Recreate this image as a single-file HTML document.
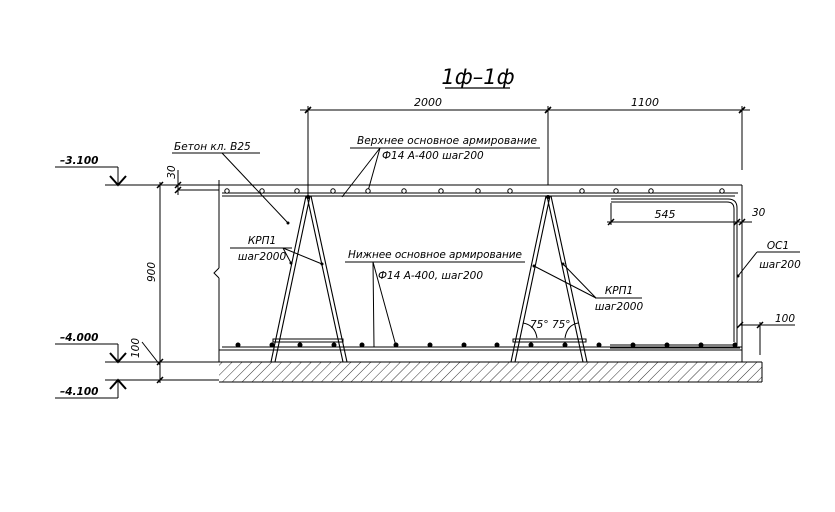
<!DOCTYPE html>
<html><head><meta charset="utf-8"><style>
html,body{margin:0;padding:0;background:#fff;}
svg{display:block;}
text{font-family:"DejaVu Sans","Liberation Sans",sans-serif;font-style:italic;fill:#000;}
</style></head><body>
<svg width="835" height="512" viewBox="0 0 835 512" xmlns="http://www.w3.org/2000/svg">
<defs>
<pattern id="h" width="7" height="7" patternUnits="userSpaceOnUse" patternTransform="rotate(45)">
<line x1="0" y1="0" x2="0" y2="7" stroke="#000" stroke-width="0.8"/>
</pattern>
</defs>
<g stroke="#000" fill="none" stroke-width="1">
<line x1="445" y1="88" x2="510" y2="88" stroke-width="1.2"/>
<line x1="300" y1="110" x2="750" y2="110"/>
<line x1="308" y1="106" x2="308" y2="195"/>
<line x1="548" y1="106" x2="548" y2="185"/>
<line x1="742" y1="106" x2="742" y2="170"/>
<path d="M305 113 L311 107 M545 113 L551 107 M739 113 L745 107" stroke-width="1.6"/>
<line x1="105" y1="185" x2="742" y2="185"/>
<line x1="742" y1="185" x2="742" y2="362"/>
<line x1="219" y1="180" x2="219" y2="268"/>
<path d="M219 268 L214 273 L219 278"/>
<line x1="219" y1="278" x2="219" y2="362"/>
<line x1="219" y1="350" x2="742" y2="350"/>
<rect x="219" y="362" width="543" height="20" fill="url(#h)" stroke="none"/>
<line x1="105" y1="362" x2="762" y2="362"/>
<line x1="105" y1="380" x2="219" y2="380"/>
<line x1="219" y1="382" x2="762" y2="382"/>
<line x1="762" y1="362" x2="762" y2="382"/>
<line x1="222" y1="193" x2="738" y2="193"/>
<line x1="222" y1="196" x2="735" y2="196"/>
<path d="M611 199 L728 199 Q737 199 737 208 L737 345 L610 345"/>
<path d="M611 202 L727 202 Q734 202 734 209 L734 342"/>
<line x1="610" y1="348" x2="740" y2="348"/>
<line x1="222" y1="347" x2="742" y2="347"/>
<path d="M306 196 L271 362 M310 196 L275 362 M307 196 L343 362 M311 196 L347 362" stroke-width="1.1"/>
<path d="M546 196 L511 362 M550 196 L515 362 M547 196 L583 362 M551 196 L587 362" stroke-width="1.1"/>
<rect x="273" y="339" width="70" height="3"/>
<rect x="513" y="339" width="73" height="3"/>
<path d="M523 323 Q535 325 537 338 M578 323 Q567 325 565 338"/>
<line x1="172" y1="153" x2="260" y2="153"/>
<path d="M222 153 L288 223"/>
<line x1="230" y1="248" x2="292" y2="248"/>
<path d="M283 248 L291 263 M283 248 L322 264"/>
<line x1="350" y1="148" x2="540" y2="148"/>
<path d="M380 148 L342 197 M380 148 L368 191"/>
<line x1="345" y1="262" x2="525" y2="262"/>
<path d="M373 262 L374 347 M373 262 L396 346"/>
<line x1="595" y1="298" x2="642" y2="298"/>
<path d="M596 298 L534 266 M596 298 L563 264"/>
<line x1="757" y1="252" x2="800" y2="252"/>
<path d="M757 252 L738 276"/>
<line x1="607" y1="222" x2="752" y2="222"/>
<line x1="611" y1="203" x2="611" y2="225"/>
<path d="M608 225 L614 219 M734 225 L740 219 M739 225 L745 219" stroke-width="1.5"/>
<line x1="740" y1="325" x2="795" y2="325"/>
<line x1="760" y1="322" x2="760" y2="355"/>
<path d="M737 328 L743 322 M757 328 L763 322" stroke-width="1.5"/>
<line x1="160" y1="182" x2="160" y2="383"/>
<path d="M157 188 L163 182 M157 365 L163 359 M157 383 L163 377" stroke-width="1.5"/>
<line x1="178" y1="170" x2="178" y2="195"/>
<line x1="178" y1="190" x2="219" y2="190"/>
<path d="M175 188 L181 182 M175 193 L181 187" stroke-width="1.5"/>
<path d="M142 342 L160 365"/>
<line x1="55" y1="167" x2="118" y2="167"/>
<line x1="118" y1="167" x2="118" y2="185"/>
<path d="M110 176 L118 185 L126 176" stroke-width="2"/>
<line x1="55" y1="344" x2="118" y2="344"/>
<line x1="118" y1="344" x2="118" y2="362"/>
<path d="M110 353 L118 362 L126 353" stroke-width="2"/>
<line x1="55" y1="398" x2="118" y2="398"/>
<line x1="118" y1="380" x2="118" y2="398"/>
<path d="M110 389 L118 380 L126 389" stroke-width="2"/>
</g>
<g stroke="#000" fill="#fff" stroke-width="1">
<circle cx="227" cy="191" r="2.2"/><circle cx="262" cy="191" r="2.2"/><circle cx="297" cy="191" r="2.2"/><circle cx="333" cy="191" r="2.2"/><circle cx="368" cy="191" r="2.2"/><circle cx="404" cy="191" r="2.2"/><circle cx="441" cy="191" r="2.2"/><circle cx="478" cy="191" r="2.2"/><circle cx="510" cy="191" r="2.2"/><circle cx="582" cy="191" r="2.2"/><circle cx="616" cy="191" r="2.2"/><circle cx="651" cy="191" r="2.2"/><circle cx="722" cy="191" r="2.2"/>
</g>
<g fill="#000">
<circle cx="238" cy="345" r="2.5"/><circle cx="272" cy="345" r="2.5"/><circle cx="300" cy="345" r="2.5"/><circle cx="334" cy="345" r="2.5"/><circle cx="362" cy="345" r="2.5"/><circle cx="396" cy="345" r="2.5"/><circle cx="430" cy="345" r="2.5"/><circle cx="464" cy="345" r="2.5"/><circle cx="497" cy="345" r="2.5"/><circle cx="531" cy="345" r="2.5"/><circle cx="565" cy="345" r="2.5"/><circle cx="599" cy="345" r="2.5"/><circle cx="633" cy="345" r="2.5"/><circle cx="667" cy="345" r="2.5"/><circle cx="701" cy="345" r="2.5"/><circle cx="735" cy="345" r="2.5"/>
<circle cx="308" cy="197" r="2"/><circle cx="548" cy="197" r="2"/>
<circle cx="288" cy="223" r="1.5"/><circle cx="322" cy="264" r="1.5"/><circle cx="291" cy="263" r="1.5"/><circle cx="534" cy="266" r="1.5"/><circle cx="563" cy="264" r="1.5"/><circle cx="738" cy="276" r="1.5"/>
</g>
<text x="478" y="84" font-size="21" text-anchor="middle">1ф–1ф</text>
<text x="428" y="106" font-size="11" text-anchor="middle">2000</text>
<text x="645" y="106" font-size="11" text-anchor="middle">1100</text>
<text x="357" y="144" font-size="10.5" textLength="180">Верхнее основное армирование</text>
<text x="382" y="159" font-size="10.5">Ф14 А-400 шаг200</text>
<text x="174" y="150" font-size="10.5">Бетон кл. В25</text>
<text x="262" y="244" font-size="10.5" text-anchor="middle">КРП1</text>
<text x="262" y="260" font-size="10.5" text-anchor="middle">шаг2000</text>
<text x="348" y="258" font-size="10.5" textLength="174">Нижнее основное армирование</text>
<text x="378" y="279" font-size="10.5">Ф14 А-400, шаг200</text>
<text x="619" y="294" font-size="10.5" text-anchor="middle">КРП1</text>
<text x="619" y="310" font-size="10.5" text-anchor="middle">шаг2000</text>
<text x="530" y="328" font-size="10.5">75° 75°</text>
<text x="665" y="218" font-size="11" text-anchor="middle">545</text>
<text x="752" y="216" font-size="10.5">30</text>
<text x="778" y="249" font-size="10.5" text-anchor="middle">ОС1</text>
<text x="780" y="268" font-size="10.5" text-anchor="middle">шаг200</text>
<text x="775" y="322" font-size="10.5">100</text>
<text x="60" y="164" font-size="10.5" font-weight="bold">–3.100</text>
<text x="60" y="341" font-size="10.5" font-weight="bold">–4.000</text>
<text x="60" y="395" font-size="10.5" font-weight="bold">–4.100</text>
<text transform="translate(155,272) rotate(-90)" font-size="10.5" text-anchor="middle">900</text>
<text transform="translate(175,172) rotate(-90)" font-size="10.5" text-anchor="middle">30</text>
<text transform="translate(139,348) rotate(-90)" font-size="10.5" text-anchor="middle">100</text>
</svg>
</body></html>
